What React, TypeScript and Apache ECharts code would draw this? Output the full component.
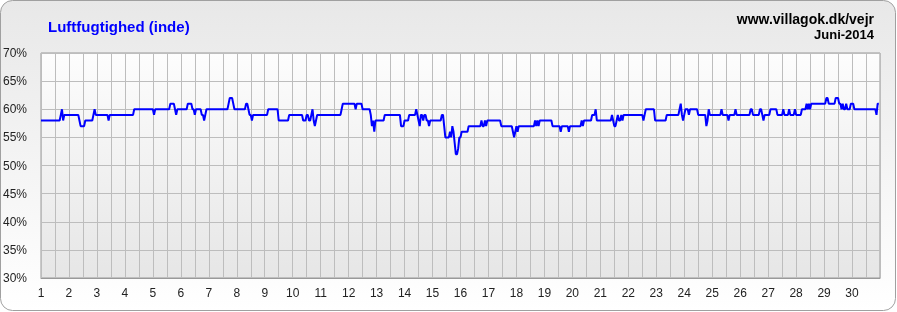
import React, { useEffect, useRef } from "react";
import * as echarts from "echarts";

// Hour (from 1 June 00:00) at which the reading changes, and the reading (%) from that hour on
const changeHours = [
  0, 17, 18, 19, 20, 33, 34, 38, 45, 46, 47, 58, 59, 80, 97, 98, 111, 115, 116, 117,
  126, 130, 132, 133, 138, 140, 141, 142, 161, 162, 165, 166, 176, 178, 179, 181, 182, 195, 204, 213,
  225, 228, 230, 232, 233, 234, 235, 236, 237, 258, 259, 270, 271, 276, 283, 284, 285, 286, 287, 295,
  309, 312, 316, 322, 323, 324, 325, 326, 328, 329, 331, 333, 334, 344, 346, 347, 351, 352, 353, 354,
  355, 356, 358, 359, 361, 367, 378, 379, 381, 382, 383, 395, 405, 406, 407, 408, 409, 410, 424, 425,
  426, 427, 428, 439, 446, 447, 453, 454, 464, 465, 466, 473, 476, 477, 490, 491, 492, 494, 495, 496,
  498, 499, 500, 517, 518, 519, 527, 537, 548, 549, 550, 551, 552, 553, 556, 557, 564, 571, 572, 573,
  574, 584, 585, 590, 591, 596, 597, 609, 611, 617, 619, 620, 621, 626, 632, 637, 638, 642, 643, 647,
  648, 653, 657, 658, 659, 660, 661, 674, 676, 682, 685, 687, 688, 689, 691, 692, 695, 698, 717, 718,
];
const levels = [
  58, 59, 60, 58, 59, 58, 57, 58, 59, 60, 59, 58, 59, 60, 59, 60, 61, 60, 59, 60,
  61, 60, 59, 60, 59, 58, 59, 60, 61, 62, 61, 60, 61, 60, 59, 58, 59, 60, 58, 59,
  58, 59, 58, 59, 60, 58, 57, 58, 59, 60, 61, 60, 61, 60, 59, 57, 58, 56, 58, 59,
  57, 58, 59, 60, 59, 58, 57, 59, 58, 59, 58, 57, 58, 59, 57, 55, 56, 55, 57, 56,
  54, 52, 53, 55, 56, 57, 58, 57, 58, 57, 58, 57, 56, 55, 56, 57, 56, 57, 58, 57,
  58, 57, 58, 57, 56, 57, 56, 57, 58, 57, 58, 59, 60, 58, 59, 58, 57, 58, 59, 58,
  59, 58, 59, 58, 59, 60, 58, 59, 60, 61, 59, 58, 59, 60, 59, 60, 59, 57, 58, 60,
  59, 60, 59, 58, 59, 60, 59, 60, 59, 60, 59, 58, 59, 60, 59, 60, 59, 60, 59, 60,
  59, 60, 61, 60, 61, 60, 61, 62, 61, 62, 61, 60, 61, 60, 61, 60, 61, 60, 59, 61,
];
const totalHours = 720;
const dayLabels = [
  "1", "2", "3", "4", "5", "6", "7", "8", "9", "10",
  "11", "12", "13", "14", "15", "16", "17", "18", "19", "20",
  "21", "22", "23", "24", "25", "26", "27", "28", "29", "30",
];
const titleText = "Luftfugtighed (inde)";
const siteText = "www.villagok.dk/vejr";
const monthText = "Juni-2014";

const FONT = "'Liberation Sans', Arial, sans-serif";

export default function App() {
  const ref = useRef<HTMLDivElement>(null);

  useEffect(() => {
    if (!ref.current) return;
    const chart = echarts.init(ref.current, undefined, { renderer: "svg" });

    const hourly: [number, number][] = [];
    let k = 0;
    for (let h = 0; h < totalHours; h++) {
      while (k + 1 < changeHours.length && changeHours[k + 1] <= h) k++;
      hourly.push([h, levels[k]]);
    }

    chart.setOption({
      animation: false,
      backgroundColor: "transparent",
      textStyle: { fontFamily: FONT },
      graphic: [
        {
          type: "rect",
          z: -100,
          silent: true,
          shape: { x: 0.5, y: 0.5, width: 895, height: 310, r: 12 },
          style: {
            fill: {
              type: "linear", x: 0, y: 0, x2: 0, y2: 1,
              colorStops: [
                { offset: 0, color: "#e8e8e8" },
                { offset: 1, color: "#ffffff" },
              ],
            },
            stroke: "#a0a0a0",
            lineWidth: 1,
          },
        },
        {
          type: "text",
          z: 100,
          style: {
            text: titleText, x: 48, y: 26, fill: "#0000ff",
            font: `bold 15px ${FONT}`, textAlign: "left", textVerticalAlign: "middle",
          },
        },
        {
          type: "text",
          z: 100,
          style: {
            text: siteText, x: 874, y: 19, fill: "#000000",
            font: `bold 14px ${FONT}`, textAlign: "right", textVerticalAlign: "middle",
          },
        },
        {
          type: "text",
          z: 100,
          style: {
            text: monthText, x: 874, y: 34, fill: "#000000",
            font: `bold 13px ${FONT}`, textAlign: "right", textVerticalAlign: "middle",
          },
        },
      ],
      grid: {
        left: 40, top: 53, right: 17, bottom: 34,
        show: true,
        borderColor: "#999999",
        borderWidth: 1,
        backgroundColor: {
          type: "linear", x: 0, y: 0, x2: 0, y2: 1,
          colorStops: [
            { offset: 0, color: "#fdfdfd" },
            { offset: 1, color: "#e6e6e6" },
          ],
        },
      },
      xAxis: {
        type: "value",
        min: 0,
        max: totalHours,
        interval: 12,
        axisLine: { show: true, lineStyle: { color: "#999999" } },
        axisTick: { show: false },
        splitLine: { show: true, lineStyle: { color: "#bdbdbd", width: 1 } },
        axisLabel: {
          color: "#222222",
          fontSize: 12,
          fontFamily: FONT,
          margin: 9,
          showMaxLabel: false,
          formatter: (v: number) =>
            v % 24 === 0 && v / 24 < dayLabels.length ? dayLabels[v / 24] : "",
        },
      },
      yAxis: {
        type: "value",
        min: 30,
        max: 70,
        interval: 5,
        axisLine: { show: false },
        axisTick: { show: false },
        splitLine: { show: true, lineStyle: { color: "#bdbdbd", width: 1 } },
        axisLabel: {
          color: "#222222",
          fontSize: 12,
          fontFamily: FONT,
          align: "left",
          margin: 38,
          formatter: (v: number) => `${v}%`,
        },
      },
      series: [
        {
          type: "line",
          data: hourly,
          showSymbol: false,
          symbol: "none",
          lineStyle: { color: "#0000ff", width: 2 },
          z: 5,
        },
      ],
    });

    return () => chart.dispose();
  }, []);

  return (
    <div
      ref={ref}
      style={{ position: "fixed", left: 0, top: 0, width: 897, height: 312 }}
    />
  );
}
